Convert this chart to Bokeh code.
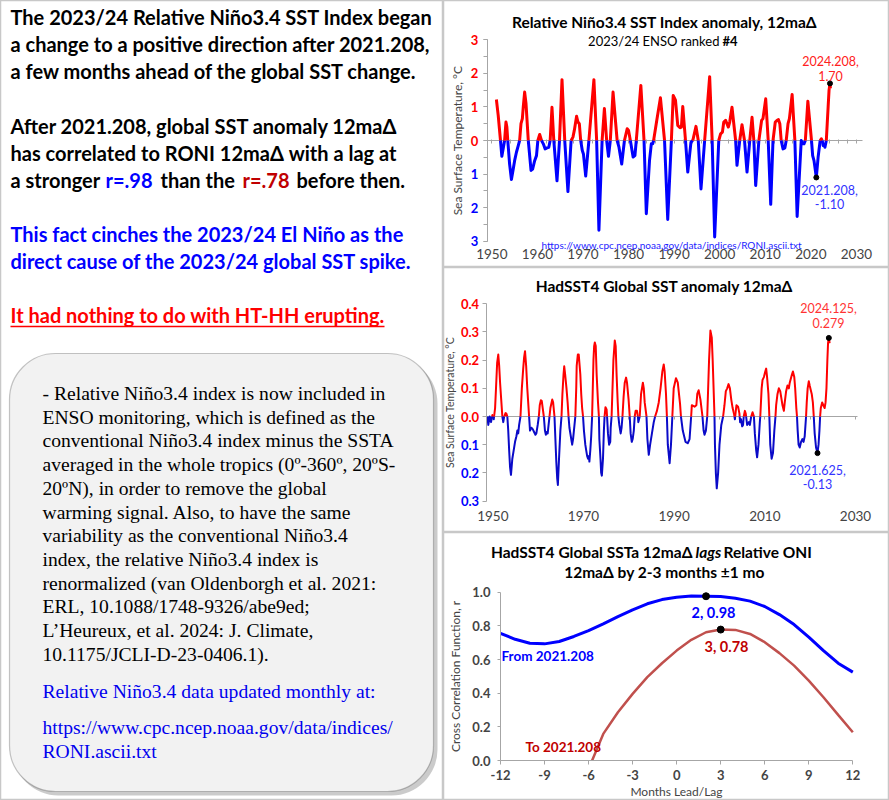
import numpy as np
from bokeh.plotting import figure
from bokeh.models import (Range1d, Label, BoxAnnotation, CustomJSTickFormatter, FixedTicker,
                          SingleIntervalTicker, ColumnDataSource, LinearAxis)
from bokeh.layouts import row, column
from bokeh.embed import file_html
from bokeh.resources import INLINE

SANS = "Lato"
SERIF = "Liberation Serif"
RED = "#FF0000"
BLUE = "#0000FF"
DARKRED = "#C00000"
GRAY = "#A6A6A6"
PANEL_BORDER = "#C8C8C8"

# ---------------- DATA ----------------
# Relative Nino3.4 12ma delta
roni_year = [1951.0, 1951.4, 1951.9, 1952.2, 1952.8, 1953.1, 1953.3, 1953.5, 1953.9, 1954.3, 1954.7, 1955.0,
             1955.4, 1955.8, 1956.1, 1956.4, 1956.7, 1956.9, 1957.2, 1957.5, 1958.0, 1958.6, 1958.95, 1959.4,
             1959.8, 1960.1, 1960.5, 1960.9, 1961.3, 1961.7, 1962.1, 1962.5, 1962.8, 1963.2, 1963.6, 1964.3,
             1964.85, 1965.4, 1966.0, 1966.7, 1967.4, 1967.8, 1968.1, 1968.6, 1968.9, 1969.2, 1969.5, 1969.85,
             1970.1, 1970.6, 1971.3, 1972.4, 1973.0, 1973.5, 1974.2, 1974.7, 1975.2, 1975.6, 1976.0, 1976.6,
             1977.5, 1977.9, 1978.5, 1979.1, 1979.7, 1980.0, 1980.4, 1981.0, 1981.4, 1981.7, 1982.7, 1983.4,
             1983.9, 1984.6, 1985.0, 1985.3, 1985.5, 1986.2, 1987.0, 1987.9, 1988.6, 1989.4, 1989.8, 1990.3,
             1990.8, 1991.3, 1991.6, 1991.9, 1992.5, 1993.0, 1993.7, 1994.1, 1994.8, 1995.3, 1995.9, 1996.7,
             1997.8, 1998.35, 1998.9, 1999.8, 2000.2, 2000.6, 2000.9, 2001.3, 2001.6, 2001.9, 2002.2, 2002.7,
             2003.5, 2003.8, 2004.4, 2004.9, 2005.45, 2006.0, 2006.6, 2007.1, 2007.5, 2007.9, 2008.6, 2009.2,
             2009.5, 2010.1, 2010.65, 2011.2, 2011.7, 2012.2, 2012.6, 2012.9, 2013.2, 2013.5, 2013.9, 2014.3,
             2014.6, 2015.0, 2015.3, 2015.9, 2016.5, 2017.0, 2017.9, 2018.2, 2018.5, 2018.8, 2019.35, 2020.15,
             2020.4, 2020.7, 2021.208, 2021.6, 2022.05, 2022.3, 2022.5, 2022.7, 2022.9, 2023.1, 2023.4, 2023.6,
             2023.8, 2024.0, 2024.208, 2024.3]
roni_val = [1.22, 0.75, 0.0, -0.47, 0.0, 0.55, 0.4, 0.0, -0.7, -1.16, -0.85, -0.6,
            -0.35, -0.15, 0.0, 0.5, 0.65, 1.0, 1.44, 1.1, 0.0, -0.89, -0.85, -0.6,
            -0.45, 0.0, 0.18, 0.0, -0.1, -0.25, -0.22, -0.2, 0.0, 0.99, 0.0, -1.2,
            0.0, 1.81, 0.0, -1.52, 0.0, 0.1, 0.3, 0.72, 0.55, 0.5, 0.0, -0.3,
            -0.4, -1.06, 0.0, 1.81, 0.0, -2.67, 0.0, 0.95, 0.0, -0.47, 0.0, 1.44,
            0.0, -0.2, -0.7, 0.0, 0.35, 0.3, 0.0, -0.49, -0.45, 0.0, 1.64, 0.0,
            -2.18, -0.6, -0.1, -0.1, 0.0, 0.6, 1.27, 0.0, -2.35, 0.0, 1.34, 1.2,
            0.45, 0.38, 0.4, 1.01, 0.0, -0.94, -0.05, 0.0, 0.42, 0.0, -1.44, 0.0,
            1.9, 0.0, -2.87, 0.0, 0.2, 0.25, 0.55, 0.6, 0.5, 0.4, 0.55, 0.99,
            0.0, -0.74, 0.0, 0.47, 0.0, -0.94, 0.0, 0.69, 0.0, -1.34, 0.0, 0.6,
            0.65, 1.24, 0.0, -1.9, 0.0, 0.55, 0.6, 0.62, 0.5, 0.0, -0.25, -0.22,
            0.0, 0.5, 0.65, 1.37, 0.0, -2.26, 0.0, -0.1, -0.1, 0.0, 1.17, 0.0,
            -0.45, -0.6, -1.10, -0.5, 0.0, 0.05, 0.0, -0.15, -0.12, -0.2, 0.0, 0.5,
            1.0, 1.5, 1.70, 1.55]
roni_mark_years = [2021.208, 2024.208]

# HadSST4 global SST anomaly 12ma delta
sst_year = [1948.8, 1949.0, 1949.3, 1949.6, 1949.9, 1950.2, 1950.5, 1950.7, 1950.95, 1951.2, 1951.4, 1951.6,
            1951.85, 1952.1, 1952.3, 1952.5, 1952.8, 1953.0, 1953.2, 1953.4, 1953.6, 1953.8, 1954.0, 1954.3,
            1954.6, 1954.9, 1955.2, 1955.4, 1955.6, 1955.8, 1956.1, 1956.4, 1956.7, 1956.9, 1957.1, 1957.35,
            1957.6, 1957.8, 1958.0, 1958.2, 1958.5, 1958.8, 1959.1, 1959.4, 1959.6, 1959.9, 1960.15, 1960.35,
            1960.6, 1960.8, 1961.0, 1961.25, 1961.5, 1961.7, 1961.9, 1962.1, 1962.3, 1962.5, 1962.7, 1963.1,
            1963.3, 1963.6, 1963.8, 1964.0, 1964.2, 1964.35, 1964.6, 1964.9, 1965.15, 1965.35, 1965.6, 1965.75,
            1965.95, 1966.25, 1966.5, 1966.7, 1966.9, 1967.3, 1967.5, 1967.7, 1968.2, 1968.4, 1968.5, 1968.75,
            1968.95, 1969.3, 1969.5, 1969.7, 1969.9, 1970.1, 1970.4, 1970.6, 1970.8, 1971.0, 1971.2, 1971.3,
            1971.5, 1971.7, 1971.9, 1972.05, 1972.2, 1972.35, 1972.5, 1972.7, 1972.9, 1973.2, 1973.4, 1973.5,
            1973.75, 1973.9, 1974.05, 1974.3, 1974.5, 1974.65, 1974.85, 1975.1, 1975.2, 1975.4, 1975.65, 1975.9,
            1976.0, 1976.2, 1976.4, 1976.6, 1976.9, 1977.1, 1977.3, 1977.55, 1977.7, 1977.9, 1978.2, 1978.4,
            1978.6, 1978.85, 1979.1, 1979.4, 1979.6, 1979.95, 1980.2, 1980.4, 1980.65, 1980.85, 1981.1, 1981.3,
            1981.5, 1981.8, 1982.0, 1982.1, 1982.4, 1982.7, 1983.1, 1983.3, 1983.5, 1983.9, 1984.1, 1984.4,
            1984.7, 1985.1, 1985.5, 1985.8, 1986.2, 1986.6, 1987.0, 1987.4, 1987.7, 1987.9, 1988.2, 1988.4,
            1988.6, 1989.0, 1989.3, 1989.6, 1989.9, 1990.4, 1990.8, 1991.3, 1991.5, 1991.9, 1992.5, 1993.0,
            1993.4, 1993.75, 1993.9, 1994.5, 1994.9, 1995.1, 1995.4, 1995.8, 1996.25, 1996.5, 1996.7, 1997.0,
            1997.3, 1997.5, 1997.7, 1998.0, 1998.3, 1998.5, 1998.7, 1998.9, 1999.0, 1999.2, 1999.4, 1999.7,
            2000.0, 2000.4, 2000.8, 2001.1, 2001.4, 2001.7, 2002.0, 2002.3, 2002.6, 2002.9, 2003.2, 2003.3,
            2003.4, 2003.6, 2003.75, 2004.1, 2004.4, 2004.55, 2004.75, 2005.0, 2005.2, 2005.35, 2005.6, 2005.8,
            2006.1, 2006.5, 2006.7, 2007.0, 2007.3, 2007.6, 2007.8, 2008.1, 2008.3, 2008.6, 2008.9, 2009.0,
            2009.15, 2009.3, 2009.5, 2009.8, 2010.1, 2010.3, 2010.5, 2010.8, 2011.0, 2011.2, 2011.5, 2011.8,
            2012.1, 2012.35, 2012.5, 2012.8, 2013.1, 2013.4, 2013.7, 2013.9, 2014.2, 2014.4, 2014.7, 2015.0,
            2015.3, 2015.5, 2016.0, 2016.2, 2016.5, 2016.7, 2016.95, 2017.1, 2017.25, 2017.45, 2017.7, 2018.0,
            2018.3, 2018.55, 2018.8, 2019.1, 2019.25, 2019.45, 2019.7, 2019.9, 2020.2, 2020.35, 2020.6, 2020.8,
            2021.0, 2021.3, 2021.625, 2021.85, 2022.05, 2022.2, 2022.35, 2022.65, 2022.9, 2023.2, 2023.4, 2023.6,
            2023.8, 2023.95, 2024.125, 2024.3]
sst_val = [0.0, -0.03, 0.0, -0.02, 0.005, -0.01, 0.03, 0.1, 0.19, 0.22, 0.18, 0.12,
           0.06, 0.0, -0.02, 0.0, 0.012, 0.01, 0.0, -0.05, -0.12, -0.18, -0.207, -0.15,
           -0.12, -0.09, -0.07, -0.05, -0.06, -0.03, 0.0, 0.1, 0.17, 0.21, 0.232, 0.18,
           0.1, 0.05, 0.0, -0.05, -0.04, -0.045, -0.055, -0.065, -0.06, -0.03, 0.0, 0.04,
           0.058, 0.055, 0.03, 0.0, -0.05, -0.065, -0.055, -0.06, -0.03, 0.0, 0.03, 0.06,
           0.05, 0.0, -0.08, -0.16, -0.22, -0.243, -0.15, -0.05, 0.0, 0.08, 0.15, 0.178,
           0.15, 0.1, 0.05, 0.0, -0.04, -0.08, -0.1, -0.08, 0.0, 0.1, 0.18, 0.22,
           0.22, 0.15, 0.08, 0.03, 0.0, -0.05, -0.1, -0.12, -0.14, -0.15, -0.14, -0.16,
           -0.12, -0.07, 0.0, 0.1, 0.2, 0.25, 0.263, 0.25, 0.15, 0.05, 0.0, -0.08,
           -0.15, -0.2, -0.21, -0.15, -0.05, 0.0, 0.033, 0.025, 0.0, -0.06, -0.1, -0.09,
           -0.04, 0.0, 0.1, 0.2, 0.27, 0.25, 0.15, 0.05, 0.0, -0.03, -0.06, -0.04,
           0.0, 0.07, 0.12, 0.138, 0.12, 0.06, 0.0, -0.06, -0.09, -0.08, -0.05, 0.0,
           0.02, 0.02, 0.0, -0.02, 0.0, 0.08, 0.12, 0.1, 0.05, 0.0, -0.08, -0.136,
           -0.1, -0.06, -0.02, 0.0, 0.02, 0.05, 0.1, 0.16, 0.185, 0.16, 0.08, 0.0,
           -0.1, -0.166, -0.1, 0.0, 0.1, 0.136, 0.12, 0.045, 0.0, -0.05, -0.09, -0.095,
           -0.08, 0.0, 0.04, 0.035, 0.04, 0.08, 0.093, 0.06, 0.0, -0.05, -0.065, -0.05,
           0.0, 0.1, 0.2, 0.305, 0.28, 0.2, 0.1, 0.0, -0.1, -0.2, -0.255, -0.2,
           -0.1, -0.03, 0.0, 0.04, 0.09, 0.1, 0.115, 0.1, 0.06, 0.03, 0.01, 0.0,
           -0.01, 0.02, 0.04, 0.035, 0.01, -0.02, -0.01, -0.035, -0.03, 0.0, 0.02, 0.01,
           -0.03, -0.02, -0.03, 0.0, 0.015, 0.0, -0.06, -0.12, -0.145, -0.1, -0.02, 0.0,
           0.05, 0.1, 0.13, 0.14, 0.16, 0.17, 0.14, 0.08, 0.0, -0.1, -0.15, -0.13,
           -0.05, 0.0, 0.04, 0.08, 0.1, 0.09, 0.06, 0.04, 0.02, 0.05, 0.09, 0.11,
           0.1, 0.12, 0.15, 0.16, 0.14, 0.1, 0.03, 0.0, -0.05, -0.1, -0.11, -0.09,
           -0.08, -0.09, -0.07, 0.0, 0.05, 0.1, 0.125, 0.11, 0.09, 0.08, 0.05, 0.0,
           -0.06, -0.11, -0.13, -0.1, -0.05, 0.0, 0.03, 0.05, 0.04, 0.03, 0.05, 0.1,
           0.2, 0.26, 0.279, 0.26]
sst_mark_years = [2021.625, 2024.125]

# Cross correlation vs lead/lag months
lag_months = list(range(-12, 13))
ccf_from_2021 = [0.756, 0.72, 0.697, 0.693, 0.707, 0.737, 0.772, 0.812, 0.855, 0.895, 0.931, 0.956, 0.970,
                 0.978, 0.976, 0.974, 0.964, 0.947, 0.915, 0.867, 0.808, 0.733, 0.653, 0.578, 0.525]
lag_months_to = list(range(-6, 13))
ccf_to_2021 = [-0.05, 0.158, 0.287, 0.396, 0.495, 0.578, 0.653, 0.717, 0.762, 0.778, 0.776, 0.752, 0.703,
               0.638, 0.564, 0.475, 0.376, 0.271, 0.168]
peak_from_lag = 2
peak_to_lag = 3

top_xticks = [1950, 1960, 1970, 1980, 1990, 2000, 2010, 2020, 2030]
mid_xticks = [1950, 1970, 1990, 2010, 2030]
bot_xticks = [-12, -9, -6, -3, 0, 3, 6, 9, 12]
bot_yticks = [0.0, 0.2, 0.4, 0.6, 0.8, 1.0]


# ---------------- helpers ----------------
def split_sign(xs, ys):
    segs_x, segs_y, signs = [], [], []
    cx, cy = [xs[0]], [ys[0]]
    cs = np.sign(ys[0])
    for i in range(1, len(xs)):
        s = np.sign(ys[i])
        if s == 0 or cs == 0 or s == cs:
            cx.append(xs[i]); cy.append(ys[i])
            if cs == 0:
                cs = s
        else:
            x0, y0, x1, y1 = xs[i - 1], ys[i - 1], xs[i], ys[i]
            xc = x0 + (0 - y0) * (x1 - x0) / (y1 - y0)
            cx.append(xc); cy.append(0.0)
            segs_x.append(cx); segs_y.append(cy); signs.append(cs)
            cx, cy = [xc, xs[i]], [0.0, ys[i]]
            cs = s
    segs_x.append(cx); segs_y.append(cy); signs.append(cs)
    return segs_x, segs_y, signs


class Panel:
    """A figure whose frame is the whole canvas; page pixel -> data mapping given."""
    def __init__(self, px0, py0, w, h, xmap, ymap):
        self.px0, self.py0, self.w, self.h = px0, py0, w, h
        xpx, xv, xs = xmap
        ypy, yv, ys = ymap
        xr = Range1d(xv + (px0 - xpx) / xs, xv + (px0 + w - xpx) / xs)
        yr = Range1d(yv + (ypy - (py0 + h)) / ys, yv + (ypy - py0) / ys)
        p = figure(width=w, height=h, x_range=xr, y_range=yr, output_backend="svg",
                   toolbar_location=None, min_border=0, x_axis_location=None, y_axis_location=None)
        p.grid.visible = False
        p.outline_line_color = PANEL_BORDER
        p.outline_line_width = 1.5
        self.p = p

    def text(self, px, py, text, size, color="black", style="normal", align="center",
             font=SANS, dy=2):
        self.p.add_layout(Label(x=px - self.px0, y=(self.py0 + self.h) - (py - dy),
                                x_units="screen", y_units="screen", text=text,
                                text_font=font, text_font_size=f"{size}px", text_color=color,
                                text_font_style=style, text_align=align, text_baseline="middle"))

    def axis(self, side, loc, bounds, ticker, formatter, **kw):
        ax = LinearAxis(fixed_location=loc, bounds=bounds, ticker=ticker, formatter=formatter)
        ax.axis_line_color = GRAY
        ax.major_tick_line_color = GRAY
        ax.minor_tick_line_color = GRAY
        ax.major_tick_in = 0
        ax.minor_tick_in = 0
        ax.major_label_text_font = SANS
        ax.axis_label_text_font = SANS
        ax.axis_label_text_font_style = "normal"
        for k, v in kw.items():
            setattr(ax, k, v)
        self.p.add_layout(ax, side)
        return ax


NOLABEL = CustomJSTickFormatter(code="return '';")
TITLE_FS = 15.5

# ---------------- left text panel ----------------
L = figure(width=443, height=800, x_range=Range1d(0, 443), y_range=Range1d(800, 0),
           output_backend="svg", toolbar_location=None, min_border=0,
           x_axis_location=None, y_axis_location=None)
L.grid.visible = False
L.outline_line_color = PANEL_BORDER
L.outline_line_width = 1.5


def ltxt(x, y, text, size=20, color="black", style="bold", font=SANS, dy=3):
    L.add_layout(Label(x=x, y=y - dy, text=text, text_font=font, text_font_size=f"{size}px",
                       text_color=color, text_font_style=style, text_baseline="middle",
                       text_align="left"))


ltxt(10, 19, "The 2023/24 Relative Niño3.4 SST Index began")
ltxt(10, 46, "a change to a positive direction after 2021.208,")
ltxt(10, 73, "a few months ahead of the global SST change.")
ltxt(10, 128, "After 2021.208, global SST anomaly 12maΔ")
ltxt(10, 155, "has correlated to RONI 12maΔ with a lag at")
ltxt(10, 182, "a stronger")
ltxt(105, 182, "r=.98", color=BLUE)
ltxt(160, 182, "than the")
ltxt(242, 182, "r=.78", color=DARKRED)
ltxt(296, 182, "before then.")
ltxt(10, 236, "This fact cinches the 2023/24 El Niño as the", color=BLUE)
ltxt(10, 263, "direct cause of the 2023/24 global SST spike.", color=BLUE)
ltxt(10, 317, "It had nothing to do with HT-HH erupting.", color=RED)
L.segment(x0=[10], y0=[326], x1=[384], y1=[326], line_color=RED, line_width=1.5)

# rounded info box with shadow
L.add_layout(BoxAnnotation(left=12, right=437, top=357, bottom=795, fill_color="#8C8C8C",
                           fill_alpha=0.45, line_color=None, border_radius=46))
L.add_layout(BoxAnnotation(left=9, right=433, top=353, bottom=791, fill_color="#F2F2F2",
                           fill_alpha=1.0, line_color="#404040", line_width=1.2, border_radius=46))
box_lines = ["- Relative Niño3.4 index is now included in",
             "ENSO monitoring, which is defined as the",
             "conventional Niño3.4 index minus the SSTA",
             "averaged in the whole tropics (0º-360º, 20ºS-",
             "20ºN), in order to remove the global",
             "warming signal. Also, to have the same",
             "variability as the conventional Niño3.4",
             "index, the relative Niño3.4 index is",
             "renormalized (van Oldenborgh et al. 2021:",
             "ERL, 10.1088/1748-9326/abe9ed;",
             "L’Heureux, et al. 2024: J. Climate,",
             "10.1175/JCLI-D-23-0406.1)."]
BOXFS = 19.6
for i, t in enumerate(box_lines):
    ltxt(42, 393 + i * 23.7, t, size=BOXFS, style="normal", font=SERIF, dy=0)
LINK = "#0000EE"
ltxt(42, 691, "Relative Niño3.4 data updated monthly at:", size=BOXFS, style="normal", font=SERIF,
     color=LINK, dy=0)
L.segment(x0=[42], y0=[701], x1=[377], y1=[701], line_color=LINK, line_width=1)
ltxt(42, 727, "https://www.cpc.ncep.noaa.gov/data/indices/", size=BOXFS, style="normal", font=SERIF,
     color=LINK, dy=0)
L.segment(x0=[42], y0=[737], x1=[393], y1=[737], line_color=LINK, line_width=1)
ltxt(42, 751, "RONI.ascii.txt", size=BOXFS, style="normal", font=SERIF, color=LINK, dy=0)
L.segment(x0=[42], y0=[761], x1=[156], y1=[761], line_color=LINK, line_width=1)

# ---------------- top right: RONI ----------------
T = Panel(443, 0, 446, 267, (491.33, 1950, 4.557), (140, 0, 33.6))
p1 = T.p
X0_T, X1_T = 1948.98, 2031.3
sx, sy, sg = split_sign(roni_year, roni_val)
p1.multi_line(xs="xs", ys="ys", line_color="c", line_width=3, line_join="round",
              source=ColumnDataSource(dict(xs=sx, ys=sy, c=[RED if s > 0 else BLUE for s in sg])))
mk = [roni_year.index(y) for y in roni_mark_years]
p1.scatter([roni_year[i] for i in mk], [roni_val[i] for i in mk], size=5, color="black")
T.axis("below", 0, (X0_T, X1_T), FixedTicker(ticks=list(np.arange(1950, 2031, 2))), NOLABEL,
       major_tick_in=1, major_tick_out=3, level="underlay")
T.axis("below", -3, (X0_T, X1_T), FixedTicker(ticks=top_xticks), CustomJSTickFormatter(code="return tick.toFixed(0);"),
       axis_line_alpha=0, major_tick_line_alpha=0, major_tick_out=0, major_label_standoff=8,
       major_label_text_font_size="13.5px")
T.axis("left", X0_T, (-3, 3), SingleIntervalTicker(interval=1, num_minor_ticks=2),
       CustomJSTickFormatter(code="return tick < 0 ? '' : tick.toFixed(0);"),
       major_tick_out=4, minor_tick_out=4, major_label_standoff=5,
       major_label_text_color=RED, major_label_text_font_style="bold", major_label_text_font_size="13px",
       axis_label="Sea Surface Temperature, °C", axis_label_text_font_size="12px", axis_label_standoff=3)
T.axis("left", X0_T, (-3, 3), FixedTicker(ticks=[-3, -2, -1]),
       CustomJSTickFormatter(code="return Math.abs(tick).toFixed(0);"),
       axis_line_alpha=0, major_tick_line_alpha=0, major_tick_out=4, major_label_standoff=5,
       major_label_text_color=BLUE, major_label_text_font_style="bold", major_label_text_font_size="13px")
T.text(664, 23, "Relative Niño3.4 SST Index anomaly, 12maΔ", TITLE_FS, style="bold")
T.text(719, 42, "2023/24 ENSO ranked", 13, align="right")
T.text(722, 42, "#4", 13, style="bold", align="left")
T.text(830, 62, "2024.208,", 12.5, color="#FF2020")
T.text(830, 77, "1.70", 12.5, color="#FF2020")
T.text(829, 191, "2021.208,", 12.5, color="#3333FF")
T.text(829, 205, "-1.10", 12.5, color="#3333FF")
T.text(671, 246, "https://www.cpc.ncep.noaa.gov/data/indices/RONI.ascii.txt", 10, color="#2222FF")

# ---------------- middle right: HadSST4 ----------------
M = Panel(443, 267, 446, 265, (492.33, 1950, 4.533), (416, 0, 281.67))
p2 = M.p
X0_M, X1_M = 1948.53, 2030.4
sx, sy, sg = split_sign(sst_year, sst_val)
p2.multi_line(xs="xs", ys="ys", line_color="c", line_width=2, line_join="round",
              source=ColumnDataSource(dict(xs=sx, ys=sy, c=[RED if s > 0 else "#0A0AC8" for s in sg])))
mk = [sst_year.index(y) for y in sst_mark_years]
p2.scatter([sst_year[i] for i in mk], [sst_val[i] for i in mk], size=5, color="black")
M.axis("below", 0, (X0_M, X1_M), FixedTicker(ticks=list(np.arange(1950, 2031, 10))), NOLABEL,
       major_tick_in=0, major_tick_out=3, level="underlay")
M.axis("below", -0.3, (X0_M, X1_M), FixedTicker(ticks=mid_xticks), CustomJSTickFormatter(code="return tick.toFixed(0);"),
       axis_line_alpha=0, major_tick_line_alpha=0, major_tick_out=0, major_label_standoff=10,
       major_label_text_font_size="13.5px")
M.axis("left", X0_M, (-0.3, 0.4), FixedTicker(ticks=[-0.3, -0.2, -0.1, 0.0, 0.1, 0.2, 0.3, 0.4]),
       CustomJSTickFormatter(code="return tick < -1e-9 ? '' : tick.toFixed(1);"),
       major_tick_out=4, major_label_standoff=3,
       major_label_text_color=RED, major_label_text_font_style="bold", major_label_text_font_size="13px",
       axis_label="Sea Surface Temperature, °C", axis_label_text_font_size="10.5px", axis_label_standoff=2)
M.axis("left", X0_M, (-0.3, 0.4), FixedTicker(ticks=[-0.3, -0.2, -0.1]),
       CustomJSTickFormatter(code="return Math.abs(tick).toFixed(1);"),
       axis_line_alpha=0, major_tick_line_alpha=0, major_tick_out=4, major_label_standoff=3,
       major_label_text_color=BLUE, major_label_text_font_style="bold", major_label_text_font_size="13px")
M.text(664, 287, "HadSST4 Global SST anomaly 12maΔ", TITLE_FS, style="bold")
M.text(828, 309, "2024.125,", 12.5, color="#FF3333")
M.text(828, 324, "0.279", 12.5, color="#FF3333")
M.text(817, 471, "2021.625,", 12.5, color="#3333FF")
M.text(817, 485, "-0.13", 12.5, color="#3333FF")

# ---------------- bottom right: cross correlation ----------------
B = Panel(443, 532, 446, 268, (500, -12, 14.68), (760, 0, 168.3))
p3 = B.p
p3.line(lag_months, ccf_from_2021, line_color=BLUE, line_width=3)
sx, sy, sg = split_sign(lag_months_to, ccf_to_2021)
for xs_, ys_, s_ in zip(sx, sy, sg):
    if s_ > 0:
        p3.line(xs_, ys_, line_color="#C0504D", line_width=2.5)
p3.scatter([peak_from_lag, peak_to_lag],
           [ccf_from_2021[lag_months.index(peak_from_lag)], ccf_to_2021[lag_months_to.index(peak_to_lag)]],
           size=7, color="black")
B.axis("below", 0, (-12, 12), FixedTicker(ticks=bot_xticks), CustomJSTickFormatter(code="return tick.toFixed(0);"),
       major_tick_out=4, major_label_standoff=5, major_label_text_font_size="13px",
       major_label_text_font_style="bold", axis_label="Months Lead/Lag",
       axis_label_text_font_size="12px", axis_label_standoff=1)
B.axis("left", -12, (0, 1), FixedTicker(ticks=bot_yticks), CustomJSTickFormatter(code="return tick.toFixed(1);"),
       major_tick_out=3, major_label_standoff=7, major_label_text_font_size="13px",
       major_label_text_font_style="bold", axis_label="Cross Correlation Function, r",
       axis_label_text_font_size="12px", axis_label_standoff=6)
B.text(692, 553, "HadSST4 Global SSTa 12maΔ", TITLE_FS, style="bold", align="right")
B.text(695, 553, "lags", TITLE_FS, style="bold italic", align="left")
B.text(723, 553, "Relative ONI", TITLE_FS, style="bold", align="left")
B.text(664, 573, "12maΔ by 2-3 months ±1 mo", TITLE_FS, style="bold")
B.text(713, 614, "2, 0.98", 14.5, color=BLUE, style="bold")
B.text(726, 648, "3, 0.78", 14.5, color=DARKRED, style="bold")
B.text(501, 657, "From 2021.208", 13.5, color=BLUE, style="bold", align="left")
B.text(525, 748, "To 2021.208", 13.5, color=DARKRED, style="bold", align="left")

layout = row(L, column(p1, p2, p3))
open("out.html", "w").write(file_html(layout, INLINE))
